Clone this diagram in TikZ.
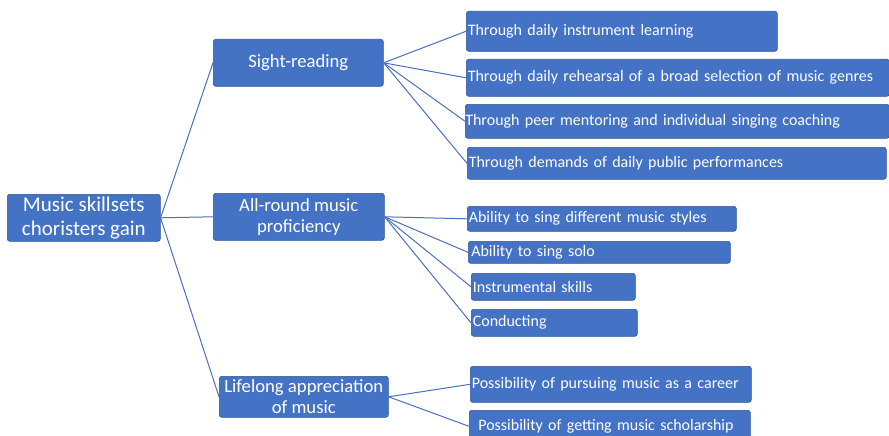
\documentclass[tikz,border=0pt]{standalone}
\usepackage{fontspec}
\setmainfont{Carlito}
\definecolor{boxfill}{HTML}{4472C4}
\definecolor{boxedge}{HTML}{2F5597}
\definecolor{linec}{HTML}{4A6FBF}
\begin{document}
\begin{tikzpicture}[x=1pt,y=-1pt,
  box/.style={draw=boxedge, line width=0.6pt, fill=boxfill, rounded corners=2.5pt, text=white, anchor=north west, inner sep=0pt},
  mid/.style={box, align=center, font=\fontsize{18.7}{20.5}\selectfont},
  leaf/.style={box, align=left, font=\fontsize{16}{17}\selectfont},
  conn/.style={draw=linec, line width=1pt}]
\useasboundingbox (0,0) rectangle (889,436);
% root
\node[box, align=center, font=\fontsize{21}{24}\selectfont, minimum width=153pt, minimum height=47pt] (root) at (7,194) {Music skillsets\\choristers gain};
% middle
\node[mid, minimum width=170pt, minimum height=47pt] (sr) at (213,39) {Sight-reading};
\node[mid, minimum width=171pt, minimum height=47pt] (ar) at (213,193) {All-round music\\proficiency};
\node[mid, minimum width=169pt, minimum height=41pt] (la) at (219,376) {Lifelong appreciation\\of music};
% leaves
\newcommand{\leafnode}[7]{\node[leaf, minimum width=#4pt, minimum height=#5pt, text width=#4pt-#6pt, inner xsep=0pt] (#1) at (#2,#3) {\hspace*{#6pt}#7};}
\leafnode{a1}{466}{11}{311}{40}{1}{Through daily instrument learning}
\leafnode{a2}{466}{59}{423}{37}{1}{Through daily rehearsal of a broad selection of music genres}
\leafnode{a3}{465}{104}{424}{34}{0}{Through peer mentoring and individual singing coaching}
\leafnode{a4}{467}{147}{419}{32}{1}{Through demands of daily public performances}
\leafnode{b1}{467}{206}{269}{25}{1}{Ability to sing different music styles}
\leafnode{b2}{468}{241}{262}{22}{2}{Ability to sing solo}
\leafnode{b3}{471}{273}{164}{27}{1}{Instrumental skills}
\leafnode{b4}{471}{309}{166}{27}{1}{Conducting}
\leafnode{c1}{470}{366}{281}{36}{1}{Possibility of pursuing music as a career}
\leafnode{c2}{469}{410}{281}{32}{6}{Possibility of getting music scholarship}
% connectors
\foreach \t in {sr,ar,la} \draw[conn] (root.east) -- (\t.west);
\foreach \t in {a1,a2,a3,a4} \draw[conn] (sr.east) -- (\t.west);
\foreach \t in {b1,b2,b3,b4} \draw[conn] (ar.east) -- (\t.west);
\foreach \t in {c1,c2} \draw[conn] (la.east) -- (\t.west);
\end{tikzpicture}
\end{document}
